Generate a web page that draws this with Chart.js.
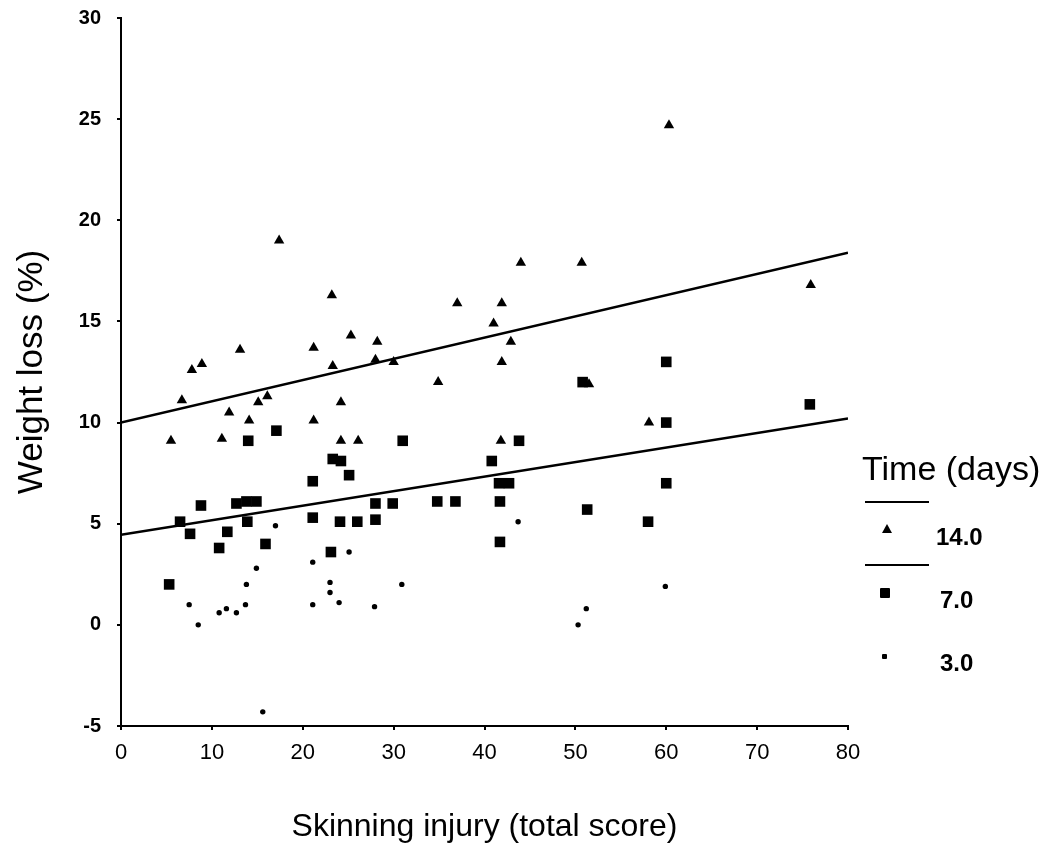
<!DOCTYPE html>
<html>
<head>
<meta charset="utf-8">
<script src="https://cdn.jsdelivr.net/npm/chart.js@4.4.1/dist/chart.umd.min.js"></script>
<style>
  html, body { margin: 0; padding: 0; background: #fff; }
  #wrap { position: relative; width: 1056px; height: 854px; }
  #legend { position: absolute; left: 0; top: 0; font-family: 'Liberation Sans', Arial, sans-serif; color: #000; }
  #legend div { position: absolute; white-space: nowrap; }
  .ttl { font-size: 34px; line-height: 34px; }
  .num { font-size: 24px; line-height: 24px; font-weight: bold; }
  .rule { width: 64px; height: 2px; background: #000; }
  .tri { width: 0; height: 0; border-left: 5px solid transparent; border-right: 5px solid transparent; border-bottom: 9px solid #000; }
  .sq { width: 10px; height: 10px; background: #000; border-radius: 1px; }
  .dot { width: 5px; height: 5px; background: #000; border-radius: 1px; }
</style>
</head>
<body>
<div id="wrap">
  <canvas id="chart" width="1056" height="854"></canvas>
  <div id="legend">
    <div class="ttl" style="left:862px; top:451px;">Time (days)</div>
    <div class="rule" style="left:865px; top:501px;"></div>
    <div class="tri" style="left:882px; top:524px;"></div>
    <div class="num" style="left:936px; top:525px;">14.0</div>
    <div class="rule" style="left:865px; top:564px;"></div>
    <div class="sq" style="left:880px; top:588px;"></div>
    <div class="num" style="left:940px; top:588px;">7.0</div>
    <div class="dot" style="left:882px; top:654px;"></div>
    <div class="num" style="left:940px; top:651px;">3.0</div>
  </div>
</div>
<script>
  // Weight loss (%) vs skinning injury score, one series per storage time
  const day14 = [
    {x: 5.5, y: 9.1}, {x: 6.7, y: 11.1}, {x: 7.8, y: 12.6}, {x: 8.9, y: 12.9},
    {x: 11.1, y: 9.2}, {x: 11.9, y: 10.5}, {x: 13.1, y: 13.6}, {x: 14.1, y: 10.1},
    {x: 15.1, y: 11.0}, {x: 16.1, y: 11.3}, {x: 17.4, y: 19.0}, {x: 21.2, y: 13.7},
    {x: 21.2, y: 10.1}, {x: 23.2, y: 16.3}, {x: 23.3, y: 12.8}, {x: 24.2, y: 11.0},
    {x: 24.2, y: 9.1}, {x: 25.3, y: 14.3}, {x: 26.1, y: 9.1}, {x: 28.2, y: 14.0},
    {x: 28.0, y: 13.1}, {x: 30.0, y: 13.0}, {x: 34.9, y: 12.0}, {x: 37.0, y: 15.9},
    {x: 41.0, y: 14.9}, {x: 41.8, y: 9.1}, {x: 41.9, y: 15.9}, {x: 41.9, y: 13.0},
    {x: 42.9, y: 14.0}, {x: 44.0, y: 17.9}, {x: 50.7, y: 17.9}, {x: 51.5, y: 11.9},
    {x: 58.1, y: 10.0}, {x: 60.3, y: 24.7}, {x: 75.9, y: 16.8}
  ];

  const day7 = [
    {x: 5.3, y: 2.0}, {x: 6.5, y: 5.1}, {x: 7.6, y: 4.5}, {x: 8.8, y: 5.9},
    {x: 10.8, y: 3.8}, {x: 11.7, y: 4.6}, {x: 12.7, y: 6.0}, {x: 13.8, y: 6.1},
    {x: 14.9, y: 6.1}, {x: 13.9, y: 5.1}, {x: 15.9, y: 4.0}, {x: 14.0, y: 9.1},
    {x: 17.1, y: 9.6}, {x: 21.1, y: 7.1}, {x: 21.1, y: 5.3}, {x: 23.1, y: 3.6},
    {x: 23.3, y: 8.2}, {x: 24.2, y: 8.1}, {x: 24.1, y: 5.1}, {x: 25.1, y: 7.4},
    {x: 26.0, y: 5.1}, {x: 28.0, y: 6.0}, {x: 28.0, y: 5.2}, {x: 29.9, y: 6.0},
    {x: 31.0, y: 9.1}, {x: 34.8, y: 6.1}, {x: 36.8, y: 6.1}, {x: 40.8, y: 8.1},
    {x: 41.6, y: 7.0}, {x: 42.7, y: 7.0}, {x: 41.7, y: 6.1}, {x: 41.7, y: 4.1},
    {x: 43.8, y: 9.1}, {x: 50.8, y: 12.0}, {x: 51.3, y: 5.7}, {x: 58.0, y: 5.1},
    {x: 60.0, y: 13.0}, {x: 60.0, y: 10.0}, {x: 60.0, y: 7.0}, {x: 75.8, y: 10.9}
  ];

  const day3 = [
    {x: 17.0, y: 4.9}, {x: 14.9, y: 2.8}, {x: 13.8, y: 2.0}, {x: 7.5, y: 1.0},
    {x: 13.7, y: 1.0}, {x: 10.8, y: 0.6}, {x: 11.6, y: 0.8}, {x: 12.7, y: 0.6},
    {x: 8.5, y: 0.0}, {x: 15.6, y: -4.3}, {x: 21.1, y: 3.1}, {x: 25.1, y: 3.6},
    {x: 23.0, y: 2.1}, {x: 23.0, y: 1.6}, {x: 21.1, y: 1.0}, {x: 24.0, y: 1.1},
    {x: 27.9, y: 0.9}, {x: 30.9, y: 2.0}, {x: 43.7, y: 5.1}, {x: 50.3, y: 0.0},
    {x: 51.2, y: 0.8}, {x: 59.9, y: 1.9}
  ];

  // fitted regression lines (end points)
  const fit14 = [{x: 0, y: 10.0}, {x: 80, y: 18.4}];
  const fit7 = [{x: 0, y: 4.45}, {x: 80, y: 10.2}];

  const xTitle = 'Skinning injury (total score)';
  const yTitle = 'Weight loss (%)';

  const fontFamily = "'Liberation Sans', Arial, sans-serif";
  Chart.defaults.font.family = fontFamily;
  Chart.defaults.color = '#000';

  new Chart(document.getElementById('chart'), {
    type: 'scatter',
    data: {
      datasets: [{
        label: '14.0',
        data: day14,
        pointStyle: 'triangle',
        pointRadius: 6,
        backgroundColor: '#000',
        borderColor: '#000',
        borderWidth: 0
      }, {
        label: '7.0',
        data: day7,
        pointStyle: 'rect',
        pointRadius: 7.5,
        backgroundColor: '#000',
        borderColor: '#000',
        borderWidth: 0
      }, {
        label: '3.0',
        data: day3,
        pointStyle: 'circle',
        pointRadius: 2.7,
        backgroundColor: '#000',
        borderColor: '#000',
        borderWidth: 0
      }, {
        type: 'line',
        data: fit14,
        borderColor: '#000',
        borderWidth: 2.5,
        pointRadius: 0,
        fill: false
      }, {
        type: 'line',
        data: fit7,
        borderColor: '#000',
        borderWidth: 2.5,
        pointRadius: 0,
        fill: false
      }]
    },
    options: {
      responsive: false,
      animation: false,
      layout: {
        padding: {top: 18, right: 208, bottom: 0, left: 0}
      },
      plugins: {
        legend: {display: false},
        tooltip: {enabled: false}
      },
      scales: {
        x: {
          type: 'linear',
          min: 0,
          max: 80,
          ticks: {stepSize: 10, color: '#000', font: {size: 22}, padding: 10},
          grid: {drawOnChartArea: false, color: '#000', tickLength: 4, lineWidth: 2},
          border: {color: '#000', width: 2},
          title: {
            display: true,
            text: xTitle,
            color: '#000',
            font: {size: 32},
            padding: {top: 0, bottom: 8}
          },
          afterFit: scale => { scale.height = 128; }
        },
        y: {
          min: -5,
          max: 30,
          ticks: {stepSize: 5, color: '#000', font: {size: 20, weight: 'bold'}, padding: 16},
          grid: {drawOnChartArea: false, color: '#000', tickLength: 4, lineWidth: 2},
          border: {color: '#000', width: 2},
          title: {
            display: true,
            text: yTitle,
            color: '#000',
            font: {size: 35},
            padding: {top: 11, bottom: 0}
          },
          afterFit: scale => {
            scale.width = 121;
            scale.paddingTop = 0;
            scale.paddingBottom = 0;
          }
        }
      }
    }
  });
</script>
</body>
</html>
